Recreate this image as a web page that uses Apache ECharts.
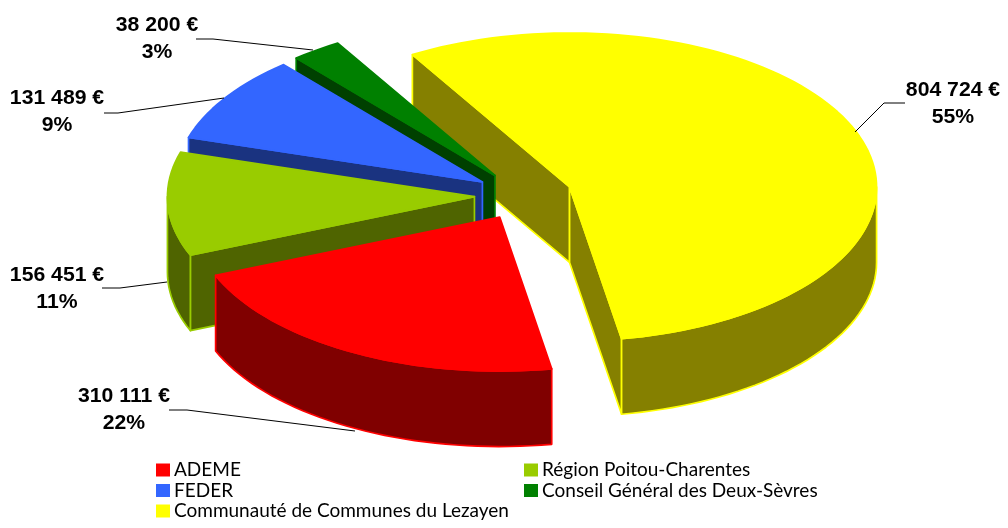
<!DOCTYPE html>
<html>
<head>
<meta charset="utf-8">
<style>
  html, body {margin: 0; padding: 0; background: #fff;}
  #chart {width: 1008px; height: 528px;}
</style>
<script src="https://cdn.jsdelivr.net/npm/echarts@6/dist/echarts.min.js"></script>
</head>
<body>
<div id="chart"></div>
<script>
// data, in pie order (clockwise from the yellow slice)
const names = ['Communauté de Communes du Lezayen', 'ADEME', 'Région Poitou-Charentes', 'FEDER', 'Conseil Général des Deux-Sèvres']
const values = [804724, 310111, 156451, 131489, 38200]
const amounts = ['804 724 €', '310 111 €', '156 451 €', '131 489 €', '38 200 €']
const percents = ['55%', '22%', '11%', '9%', '3%']
const colors = ['#ffff00', '#ff0000', '#99cc00', '#3366ff', '#008000']
const sideColors = ['#858000', '#800000', '#4f6400', '#1a3380', '#004000']

// fake 3d pie geometry
const cx = 523.5, cy = 195.5, rx = 307, ry = 154, depth = 75.5, explode = 0.16, startAngle = -30.8
const total = values.reduce((a, b) => a + b, 0)
const rad = (d) => d * Math.PI / 180

// angle is clockwise from north
const rim = (o, a, dy) => [o[0] + rx * Math.sin(rad(a)), o[1] - ry * Math.cos(rad(a)) + dy]

const arc = (o, a0, a1, dy) => {
  const pts = []
  const n = Math.max(2, Math.ceil((a1 - a0) / 2))
  for (let i = 0; i <= n; i++) pts.push(rim(o, a0 + (a1 - a0) * i / n, dy))
  return pts
}

const sliceAngles = values.map((v, i) => {
  const before = values.slice(0, i).reduce((a, b) => a + b, 0)
  return [startAngle + before / total * 360, startAngle + (before + v) / total * 360]
})

const poly = (points, fill, stroke) => ({
  type: 'polygon',
  shape: {points},
  style: {fill, stroke, lineWidth: 1.7, lineJoin: 'round'}
})

const renderSlice = (i) => () => {
  const [a0, a1] = sliceAngles[i]
  const mid = (a0 + a1) / 2
  const o = [cx + explode * rx * Math.sin(rad(mid)), cy - explode * ry * Math.cos(rad(mid))]
  const children = []
  const wall = (a) => poly([o, rim(o, a, 0), rim(o, a, depth), [o[0], o[1] + depth]], sideColors[i], colors[i])
  if (Math.sin(rad(a0)) < 0) children.push(wall(a0))
  if (Math.sin(rad(a1)) > 0) children.push(wall(a1))
  // only the front half of the outer edge shows
  const f0 = Math.max(a0, 90), f1 = Math.min(a1, 270)
  if (f1 > f0) {
    children.push(poly(arc(o, f0, f1, 0).concat(arc(o, f0, f1, depth).reverse()), sideColors[i], colors[i]))
  }
  children.push(poly([o].concat(arc(o, a0, a1, 0)), colors[i], colors[i]))
  return {type: 'group', children}
}

// back to front, same as the picture
const drawOrder = [0, 4, 3, 2, 1]

// label centre and leader line for each slice
const labelPos = [[953, 104], [124, 410], [57, 289], [57, 112], [157, 39]]
const leaders = [
  [[905, 103], [884, 103], [855, 132]],
  [[169, 410], [187, 410], [355, 431]],
  [[102, 288], [120, 288], [167, 282]],
  [[104, 113], [118, 113], [224, 98]],
  [[196, 39], [213, 39], [313, 50]]
]

const labels = []
values.forEach((v, i) => {
  labels.push({
    type: 'polyline',
    shape: {points: leaders[i]},
    style: {stroke: '#000', lineWidth: 1, fill: null},
    z: 10
  })
  labels.push({
    type: 'text',
    x: labelPos[i][0],
    y: labelPos[i][1],
    scaleX: 1.06,
    style: {
      text: amounts[i] + '\n' + percents[i],
      font: 'bold 20px "Liberation Sans", Arial, sans-serif',
      lineHeight: 27,
      fill: '#000',
      align: 'center',
      verticalAlign: 'middle'
    },
    z: 10
  })
})

const legendBase = {
  orient: 'vertical',
  icon: 'rect',
  itemWidth: 14,
  itemHeight: 13,
  itemGap: 0.5,
  selectedMode: false,
  padding: 0,
  textStyle: {fontFamily: 'Lato', fontSize: 19, lineHeight: 20, color: '#000', padding: [0, 0, 0, -1]}
}

const chart = echarts.init(document.getElementById('chart'), null, {renderer: 'canvas'})
chart.setOption({
  animation: false,
  legend: [
    Object.assign({}, legendBase, {left: 156, top: 460, data: [names[1], names[3], names[0]]}),
    Object.assign({}, legendBase, {left: 524, top: 460, data: [names[2], names[4]]})
  ],
  graphic: {elements: labels},
  series: drawOrder.map((i) => ({
    type: 'custom',
    name: names[i],
    coordinateSystem: 'none',
    silent: true,
    itemStyle: {color: colors[i]},
    data: [[values[i]]],
    renderItem: renderSlice(i)
  }))
})
</script>
</body>
</html>
